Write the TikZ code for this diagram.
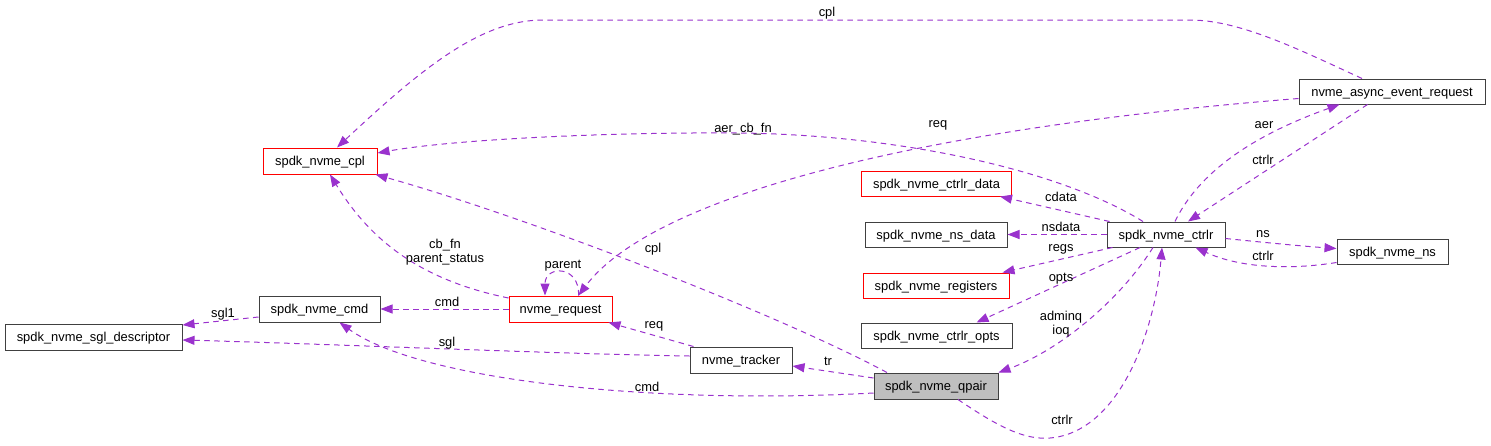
\documentclass[tikz,border=0pt]{standalone}
\usepackage{fontspec}
\setmainfont{Liberation Sans}
\usetikzlibrary{arrows.meta,calc}
\definecolor{edgec}{HTML}{9A32CD}
\definecolor{boxc}{HTML}{404040}
\definecolor{redc}{HTML}{FF0000}
\definecolor{grayfill}{HTML}{BFBFBF}
\begin{document}
\begin{tikzpicture}[x=1pt,y=-1pt,
  every node/.style={font=\fontsize{12.9}{15}\selectfont, inner sep=0pt},
  cls/.style={draw=boxc, line width=1pt, minimum height=26pt, text height=11.5pt, text depth=2pt, fill=white},
  redcls/.style={cls, draw=redc},
  lbl/.style={text height=11.5pt, text depth=2pt},
  mlbl/.style={align=center, font=\fontsize{12.9}{14}\selectfont},
  edge/.style={draw=edgec, line width=1pt, dash pattern=on 5.5pt off 4.5pt, -{Triangle[length=12pt,width=9pt]}}
]
\useasboundingbox (0,0) rectangle (1491,445);
% nodes
\node[cls, minimum width=177pt] (sgl) at (93.5,337) {spdk\_nvme\_sgl\_descriptor};
\node[cls, minimum width=121pt] (cmd) at (319.5,309) {spdk\_nvme\_cmd};
\node[redcls, minimum width=114pt] (cpl) at (320,161) {spdk\_nvme\_cpl};
\node[redcls, minimum width=103pt] (req) at (560.5,309) {nvme\_request};
\node[cls, minimum width=102pt] (trk) at (741,360) {nvme\_tracker};
\node[cls, minimum width=124pt, fill=grayfill] (qp) at (936,386) {spdk\_nvme\_qpair};
\node[redcls, minimum width=150pt, minimum height=25pt] (cd) at (936.5,183.5) {spdk\_nvme\_ctrlr\_data};
\node[cls, minimum width=142pt, minimum height=25pt] (nsd) at (936,234.5) {spdk\_nvme\_ns\_data};
\node[redcls, minimum width=146pt, minimum height=25pt] (regs) at (936,285.5) {spdk\_nvme\_registers};
\node[cls, minimum width=151pt, minimum height=25pt] (opts) at (936.5,335.5) {spdk\_nvme\_ctrlr\_opts};
\node[cls, minimum width=118pt, minimum height=25pt] (ctrlr) at (1166,234.5) {spdk\_nvme\_ctrlr};
\node[cls, minimum width=186pt, minimum height=25pt] (aer) at (1392,91.5) {nvme\_async\_event\_request};
\node[cls, minimum width=111pt, minimum height=25pt] (ns) at (1392.5,251.5) {spdk\_nvme\_ns};

% edges
\draw[edge] ($(cmd.west)+(0,8)$) -- ($(sgl.east)+(0,-12)$);
\draw[edge] ($(trk.west)+(0,-4)$) .. controls (560,354) and (330,344) .. ($(sgl.east)+(0,3)$);
\draw[edge] (req.west) -- (cmd.east);
\draw[edge] ($(qp.west)+(0,7)$) .. controls (650,405) and (420,380) .. ($(cmd.south)+(20,0)$);
\draw[edge] ($(req.west)+(0,-11)$) .. controls (420,280) and (370,240) .. ($(cpl.south)+(10,0)$);
\draw[edge] ($(req.north)+(18,0)$) .. controls (580,265) and (545,265) .. ($(req.north)+(-15.5,0)$);
\draw[edge] ($(trk.north west)+(4,0)$) -- ($(req.south east)+(-4,0)$);
\draw[edge] ($(qp.west)+(0,-8)$) -- ($(trk.east)+(0,6)$);
\draw[edge] ($(qp.north)+(-49,0)$) .. controls (770,310) and (520,215) .. ($(cpl.south east)+(-2,0)$);
\draw[edge] ($(aer.north)+(-30,0)$) .. controls (1300,50) and (1240,20) .. (1190,20) -- (543,20) .. controls (480,20) and (420,70) .. ($(cpl.north)+(17,0)$);
\draw[edge] ($(ctrlr.north)+(-23,0)$) .. controls (1060,170) and (900,135) .. (740,133) .. controls (600,132) and (450,140) .. ($(cpl.east)+(0,-8)$);
\draw[edge] ($(aer.west)+(0,7)$) .. controls (900,130) and (650,200) .. ($(req.north)+(18,0)$);
\draw[edge] ($(ctrlr.north west)+(3,0)$) -- ($(cd.south east)+(-12,0)$);
\draw[edge] (ctrlr.west) -- (nsd.east);
\draw[edge] ($(ctrlr.south west)+(6,0)$) -- ($(regs.north east)+(-7,0)$);
\draw[edge] ($(ctrlr.south)+(-26,0)$) -- ($(opts.north east)+(-36,0)$);
\draw[edge] ($(ctrlr.south)+(-13,0)$) .. controls (1120,300) and (1060,350) .. (qp.north east);
\draw[edge] ($(qp.south)+(22,0)$) .. controls (1000,428) and (1025,440) .. (1050,438) .. controls (1120,432) and (1155,330) .. ($(ctrlr.south)+(-4,0)$);
\draw[edge] ($(ctrlr.north)+(9,0)$) .. controls (1195,180) and (1240,140) .. ($(aer.south west)+(41,0)$);
\draw[edge] ($(aer.south west)+(69,0)$) -- ($(ctrlr.north)+(22,0)$);
\draw[edge] ($(ctrlr.east)+(0,4)$) .. controls (1260,242) and (1300,246) .. ($(ns.west)+(0,-3)$);
\draw[edge] ($(ns.west)+(0,11)$) .. controls (1290,270) and (1240,268) .. ($(ctrlr.south east)+(-30,0)$);

% labels
\node[lbl] (l1) at (223,313) {sgl1};
\node[lbl] (l2) at (447,342) {sgl};
\node[lbl] (l3) at (447,302) {cmd};
\node[lbl] (l4) at (647,387) {cmd};
\node[mlbl] (l5) at (445,252) {cb\_fn\\parent\_status};
\node[lbl] (l6) at (563,264) {parent};
\node[lbl] (l7) at (654,324) {req};
\node[lbl] (l8) at (828,361) {tr};
\node[lbl] (l9) at (653,248) {cpl};
\node[lbl] (l10) at (827,12) {cpl};
\node[lbl] (l11) at (743,128) {aer\_cb\_fn};
\node[lbl] (l12) at (938,123) {req};
\node[lbl] (l13) at (1061,197) {cdata};
\node[lbl] (l14) at (1061,227) {nsdata};
\node[lbl] (l15) at (1061,247) {regs};
\node[lbl] (l16) at (1061,277) {opts};
\node[mlbl] (l17) at (1061,324.5) {adminq\\ioq};
\node[lbl] (l18) at (1062,420) {ctrlr};
\node[lbl] (l19) at (1264,124) {aer};
\node[lbl] (l20) at (1263,160) {ctrlr};
\node[lbl] (l21) at (1263,233) {ns};
\node[lbl] (l22) at (1263,256) {ctrlr};
\end{tikzpicture}
\end{document}
